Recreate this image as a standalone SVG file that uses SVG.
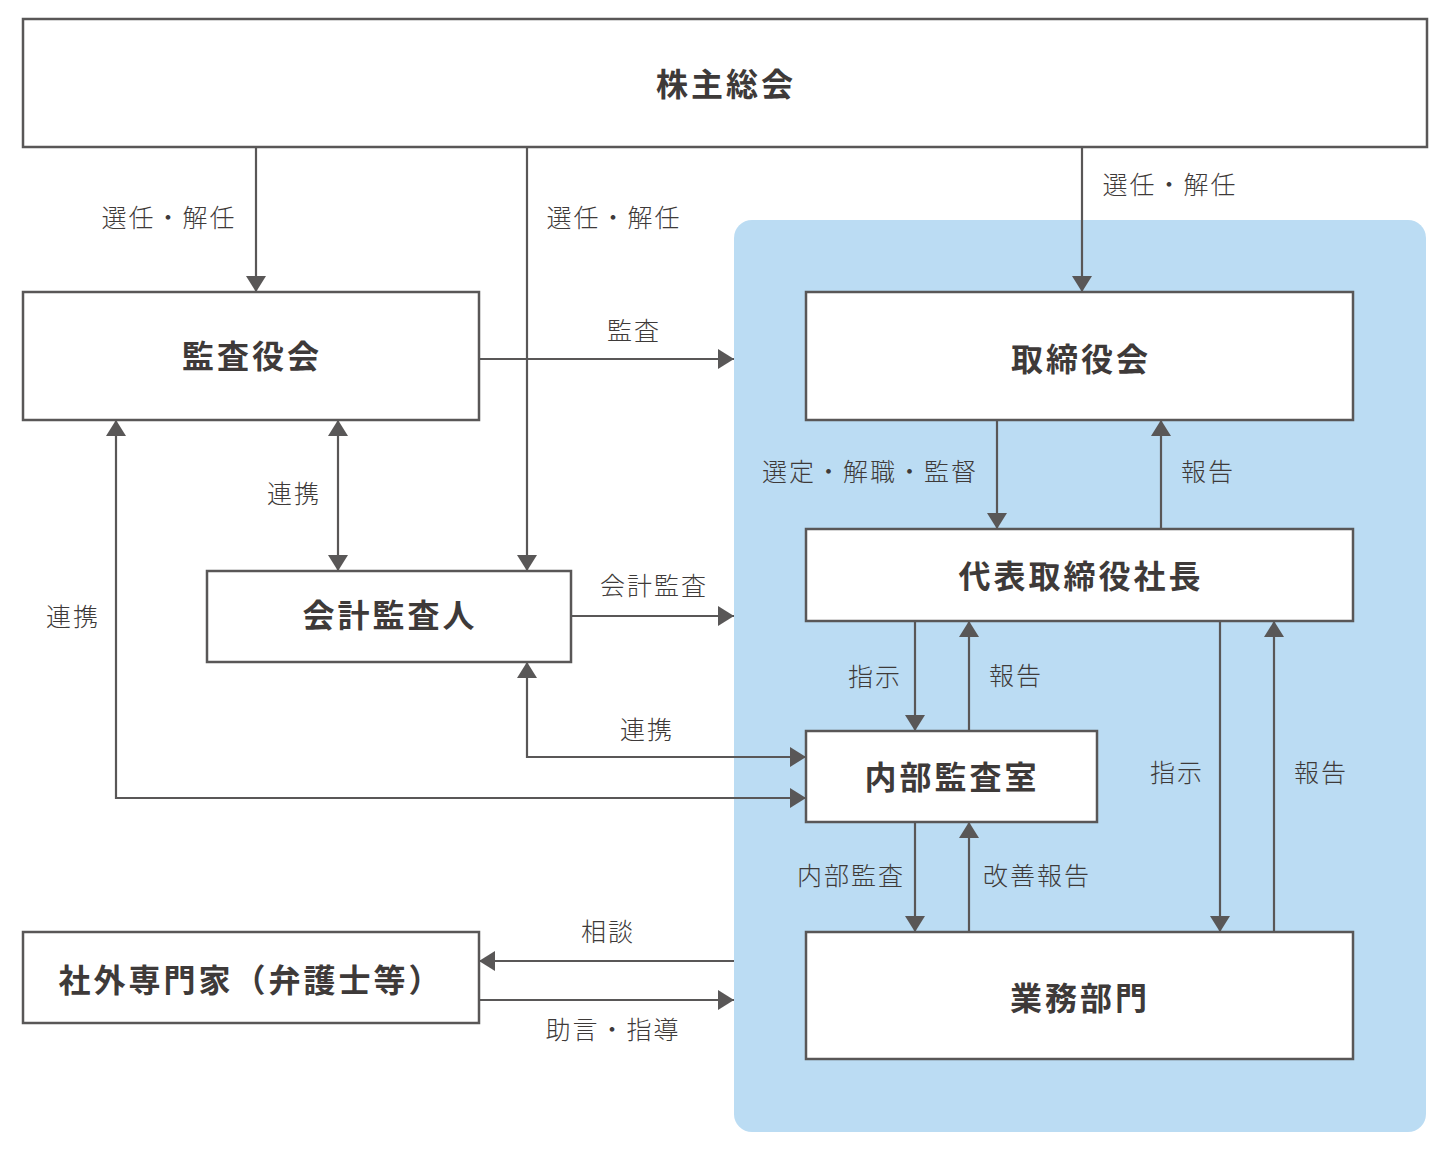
<svg xmlns="http://www.w3.org/2000/svg" width="1450" height="1150" viewBox="0 0 1450 1150">
<defs>
<marker id="ah" viewBox="0 0 16 20" refX="16" refY="10" markerWidth="16" markerHeight="20" markerUnits="userSpaceOnUse" orient="auto-start-reverse">
<path d="M0,0 L16,10 L0,20 Z" fill="#595757"/>
</marker>
<style>
.box{fill:#fff;stroke:#595757;stroke-width:2.5}
.nt{font-family:"Noto Sans CJK JP","Noto Sans CJK SC",sans-serif;font-weight:700;font-size:32px;letter-spacing:3px;fill:#3e3a39;text-anchor:middle;dominant-baseline:central}
.lb{font-family:"Noto Sans CJK JP","Noto Sans CJK SC",sans-serif;font-weight:300;font-size:25px;letter-spacing:2px;fill:#3e3a39;text-anchor:middle;dominant-baseline:central}
.ln{fill:none;stroke:#595757;stroke-width:2.2}
</style>
</defs>
<rect width="1450" height="1150" fill="#fff"/>
<rect id="panel" x="734" y="220" width="692" height="912" rx="18" ry="18" fill="#bbdcf3"/>

<g id="connectors">
<path class="ln" d="M256,147 V292" marker-end="url(#ah)"/>
<path class="ln" d="M527,147 V571" marker-end="url(#ah)"/>
<path class="ln" d="M1082,147 V292" marker-end="url(#ah)"/>
<path class="ln" d="M479,359 H734" marker-end="url(#ah)"/>
<path class="ln" d="M338,420 V571" marker-start="url(#ah)" marker-end="url(#ah)"/>
<path class="ln" d="M571,616 H734" marker-end="url(#ah)"/>
<path class="ln" d="M527,662 V757 H806" marker-start="url(#ah)" marker-end="url(#ah)"/>
<path class="ln" d="M116,420 V798 H806" marker-start="url(#ah)" marker-end="url(#ah)"/>
<path class="ln" d="M997,420 V529" marker-end="url(#ah)"/>
<path class="ln" d="M1161,529 V420" marker-end="url(#ah)"/>
<path class="ln" d="M915,621 V731" marker-end="url(#ah)"/>
<path class="ln" d="M969,731 V621" marker-end="url(#ah)"/>
<path class="ln" d="M1220,621 V932" marker-end="url(#ah)"/>
<path class="ln" d="M1274,932 V621" marker-end="url(#ah)"/>
<path class="ln" d="M915,822 V932" marker-end="url(#ah)"/>
<path class="ln" d="M969,932 V822" marker-end="url(#ah)"/>
<path class="ln" d="M734,961 H479" marker-end="url(#ah)"/>
<path class="ln" d="M479,1000 H734" marker-end="url(#ah)"/>

<text class="lb" x="169" y="216">選任・解任</text>
<text class="lb" x="614" y="216">選任・解任</text>
<text class="lb" x="1170" y="183">選任・解任</text>
<text class="lb" x="634" y="329">監査</text>
<text class="lb" x="294" y="492">連携</text>
<text class="lb" x="654" y="584">会計監査</text>
<text class="lb" x="647" y="728">連携</text>
<text class="lb" x="73" y="615">連携</text>
<text class="lb" x="870" y="470">選定・解職・監督</text>
<text class="lb" x="1208" y="470">報告</text>
<text class="lb" x="875" y="675">指示</text>
<text class="lb" x="1016" y="674">報告</text>
<text class="lb" x="1177" y="771">指示</text>
<text class="lb" x="1321" y="771">報告</text>
<text class="lb" x="851" y="874">内部監査</text>
<text class="lb" x="1037" y="874">改善報告</text>
<text class="lb" x="608" y="930">相談</text>
<text class="lb" x="613" y="1028">助言・指導</text>
</g>

<g id="n-kabunushi"><rect class="box" x="23" y="19" width="1404" height="128"/><text class="nt" x="726" y="82">株主総会</text></g>
<g id="n-kansayakukai"><rect class="box" x="23" y="292" width="456" height="128"/><text class="nt" x="252" y="354">監査役会</text></g>
<g id="n-torishimariyakukai"><rect class="box" x="806" y="292" width="547" height="128"/><text class="nt" x="1081" y="357">取締役会</text></g>
<g id="n-shacho"><rect class="box" x="806" y="529" width="547" height="92"/><text class="nt" x="1081" y="574">代表取締役社長</text></g>
<g id="n-kaikei"><rect class="box" x="207" y="571" width="364" height="91"/><text class="nt" x="390" y="613">会計監査人</text></g>
<g id="n-naibu"><rect class="box" x="806" y="731" width="291" height="91"/><text class="nt" x="952" y="775">内部監査室</text></g>
<g id="n-gyomu"><rect class="box" x="806" y="932" width="547" height="127"/><text class="nt" x="1080" y="996">業務部門</text></g>
<g id="n-senmonka"><rect class="box" x="23" y="932" width="456" height="91"/><text class="nt" x="251" y="978">社外専門家（弁護士等）</text></g>
</svg>
